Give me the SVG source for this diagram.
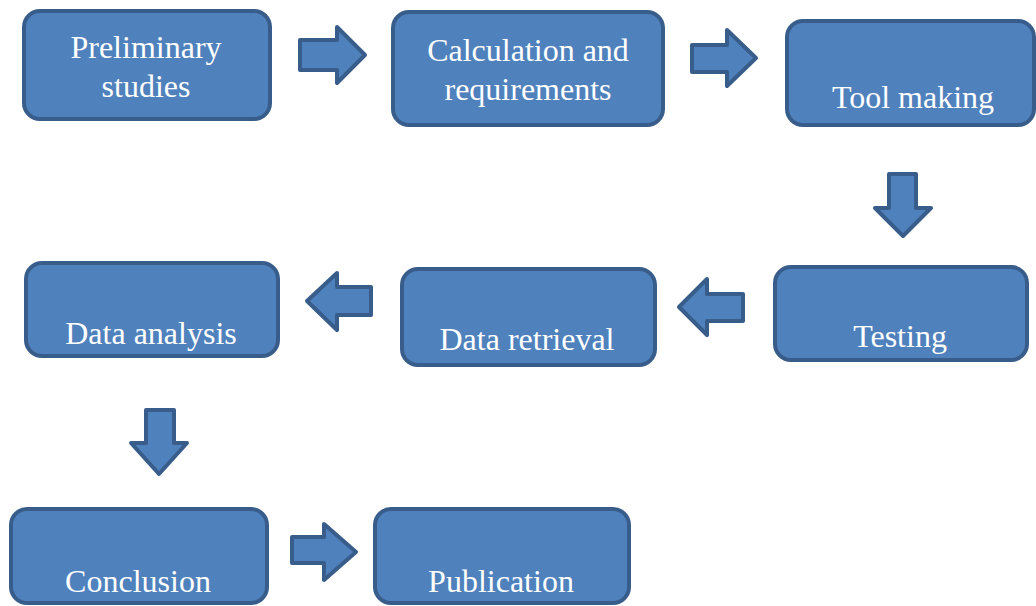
<svg xmlns="http://www.w3.org/2000/svg" width="1036" height="606" viewBox="0 0 1036 606">
<style>
.box{fill:#4F81BD;stroke:#385D8A;stroke-width:4}
.arr{fill:#4F81BD;stroke:#385D8A;stroke-width:4;stroke-linejoin:round}
text{font-family:"Liberation Serif","Times New Roman",serif;font-size:32px;fill:#FFFFFF;text-anchor:middle}
</style>
<rect width="1036" height="606" fill="#FFFFFF"/>
<g id="connectors">
<polygon class="arr" points="300,40 337,40 337,27 365,55 337,83 337,70 300,70"/>
<polygon class="arr" points="692,45 727,45 727,30 756,58 727,86 727,72 692,72"/>
<polygon class="arr" points="889,174 916,174 916,208 931,208 903,236 875,208 889,208"/>
<polygon class="arr" points="743,294 707,294 707,279 679,307 707,335 707,321 743,321"/>
<polygon class="arr" points="371,287 337,287 337,273 307,301 337,330 337,315 371,315"/>
<polygon class="arr" points="146,410 174,410 174,443 187,443 159,474 131,443 146,443"/>
<polygon class="arr" points="292,537 324,537 324,524 356,552 324,580 324,563 292,563"/>
</g>
<g id="n1"><rect class="box" x="24" y="11" width="246" height="108" rx="16"/><text x="146" y="58">Preliminary</text><text x="146" y="97">studies</text></g>
<g id="n2"><rect class="box" x="393" y="12" width="270" height="113" rx="16"/><text x="528" y="61">Calculation and</text><text x="528" y="100">requirements</text></g>
<g id="n3"><rect class="box" x="787" y="21" width="247" height="104" rx="16"/><text x="913" y="108">Tool making</text></g>
<g id="n4"><rect class="box" x="775" y="267" width="252" height="93" rx="16"/><text x="900" y="347">Testing</text></g>
<g id="n5"><rect class="box" x="402" y="269" width="253" height="96" rx="16"/><text x="527" y="350">Data retrieval</text></g>
<g id="n6"><rect class="box" x="26" y="263" width="252" height="93" rx="16"/><text x="151" y="344">Data analysis</text></g>
<g id="n7"><rect class="box" x="11" y="509" width="256" height="94" rx="16"/><text x="138" y="592">Conclusion</text></g>
<g id="n8"><rect class="box" x="375" y="509" width="254" height="94" rx="16"/><text x="501" y="592">Publication</text></g>
</svg>
